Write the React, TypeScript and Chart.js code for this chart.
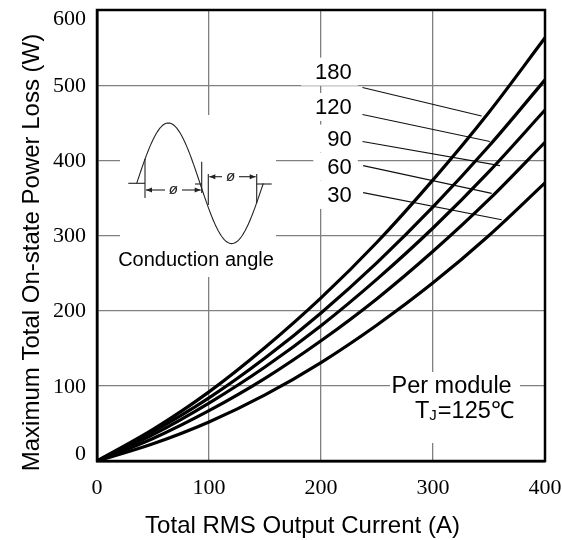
import React, { useEffect, useRef } from 'react';
import { Chart, registerables } from 'chart.js';

Chart.register(...registerables);

// ---- data ----
const currents = [0, 50, 100, 150, 200, 250, 300, 350, 400];
const loss180 = [0, 42, 92, 151, 217, 291, 374, 464, 563];
const loss120 = [0, 39, 84, 137, 197, 264, 338, 419, 507];
const loss90 = [0, 35, 77, 125, 180, 242, 310, 385, 467];
const loss60 = [0, 30, 67, 110, 160, 216, 279, 348, 424];
const loss30 = [0, 23, 52, 88, 131, 181, 237, 300, 370];
const seriesNames = ['180', '120', '90', '60', '30'];
const seriesValues = [loss180, loss120, loss90, loss60, loss30];

const xTicks = [0, 100, 200, 300, 400];
const yTicks = [0, 100, 200, 300, 400, 500, 600];

// angle label anchors (data units) and leader line ends (data units)
const labelRightX = 227.5;
const labelY = [518, 471, 429, 391.5, 354];
const leaderStart = [[237, 497], [237, 461], [237, 425], [237.6, 393], [237.6, 357]];
const leaderEnd = [[343.4, 459], [350.8, 425], [359.8, 393], [352.4, 356], [361.3, 321]];

const xTitle = 'Total RMS Output Current (A)';
const yTitle = 'Maximum Total On-state Power Loss (W)';
const insetTitle = 'Conduction angle';
const noteLine1 = 'Per module';
const noteT = 'T';
const noteSub = 'J';
const noteRest = '=125\u2103';

const SANS = '"Liberation Sans", Arial, sans-serif';
const SERIF = '"Liberation Serif", "Times New Roman", serif';

function arrowHead(ctx: CanvasRenderingContext2D, x: number, y: number, dir: number) {
  ctx.beginPath();
  ctx.moveTo(x, y);
  ctx.lineTo(x - dir * 6, y - 2.5);
  ctx.lineTo(x - dir * 6, y + 2.5);
  ctx.closePath();
  ctx.fill();
}

const annotations = {
  id: 'annotations',
  beforeDatasetsDraw(chart: any) {
    const { ctx, chartArea: a, scales } = chart;
    const xs = scales.x, ys = scales.y;
    const ox = a.left - 97, oy = a.top - 10;
    ctx.save();
    // white backgrounds
    ctx.fillStyle = '#fff';
    ctx.fillRect(ox + 120, oy + 115, 156, 162);
    ctx.fillRect(ox + 390, oy + 372, 130, 71);

    // angle labels with white boxes
    ctx.font = `22px ${SANS}`;
    ctx.textBaseline = 'middle';
    ctx.textAlign = 'right';
    seriesNames.forEach((name, i) => {
      const rx = xs.getPixelForValue(labelRightX);
      const cy = ys.getPixelForValue(labelY[i]);
      const w = ctx.measureText(name).width;
      ctx.fillStyle = '#fff';
      ctx.fillRect(rx - w - 14, cy - 14, w + 20, 28);
    });
    seriesNames.forEach((name, i) => {
      const rx = xs.getPixelForValue(labelRightX);
      const cy = ys.getPixelForValue(labelY[i]);
      ctx.fillStyle = '#000';
      ctx.fillText(name, rx, cy + 1);
      ctx.beginPath();
      ctx.strokeStyle = '#111';
      ctx.lineWidth = 1.1;
      ctx.moveTo(xs.getPixelForValue(leaderStart[i][0]), ys.getPixelForValue(leaderStart[i][1]));
      ctx.lineTo(xs.getPixelForValue(leaderEnd[i][0]), ys.getPixelForValue(leaderEnd[i][1]));
      ctx.stroke();
    });

    // inset: conduction angle drawing
    ctx.strokeStyle = '#222';
    ctx.fillStyle = '#222';
    ctx.lineWidth = 1.1;
    ctx.beginPath();
    const x0 = ox + 136.7, base = oy + 183.3, per = 126.6, amp = 60.3;
    for (let k = 0; k <= 120; k++) {
      const t = k / 120;
      const px = x0 + t * per;
      const py = base - amp * Math.sin(2 * Math.PI * t);
      if (k === 0) ctx.moveTo(px, py); else ctx.lineTo(px, py);
    }
    ctx.stroke();
    const seg = (x1: number, y1: number, x2: number, y2: number) => {
      ctx.beginPath();
      ctx.moveTo(ox + x1, oy + y1);
      ctx.lineTo(ox + x2, oy + y2);
      ctx.stroke();
    };
    seg(145, 159, 145, 198);
    seg(201.7, 161.7, 201.7, 193);
    seg(208.3, 174, 208.3, 205);
    seg(256.7, 174, 256.7, 203);
    seg(128.3, 183.3, 145, 183.3);
    seg(195, 184, 201.7, 184);
    seg(256.7, 184, 271.7, 184);
    // dimension 1
    seg(146, 190, 165, 190);
    seg(182, 190, 200.7, 190);
    arrowHead(ctx, ox + 146, oy + 190, -1);
    arrowHead(ctx, ox + 200.7, oy + 190, 1);
    // dimension 2
    seg(209.3, 176.7, 222, 176.7);
    seg(239, 176.7, 255.7, 176.7);
    arrowHead(ctx, ox + 209.3, oy + 176.7, -1);
    arrowHead(ctx, ox + 255.7, oy + 176.7, 1);
    ctx.font = `italic 15px ${SANS}`;
    ctx.textAlign = 'center';
    ctx.textBaseline = 'middle';
    ctx.fillText('\u00f8', ox + 173.3, oy + 190);
    ctx.fillText('\u00f8', ox + 230.5, oy + 176.7);

    ctx.fillStyle = '#000';
    ctx.font = `20px ${SANS}`;
    ctx.fillText(insetTitle, ox + 196, oy + 260);

    // note box text
    ctx.font = `23.5px ${SANS}`;
    ctx.textAlign = 'left';
    ctx.fillText(noteLine1, ox + 391.5, oy + 387);
    let tx = ox + 415;
    ctx.fillText(noteT, tx, oy + 411.5);
    tx += ctx.measureText(noteT).width;
    ctx.font = `15px ${SANS}`;
    ctx.fillText(noteSub, tx, oy + 416);
    tx += ctx.measureText(noteSub).width + 1;
    ctx.font = `23.5px ${SANS}`;
    ctx.fillText(noteRest, tx, oy + 411.5);
    ctx.restore();
  },
  afterDraw(chart: any) {
    const { ctx, chartArea: a, scales } = chart;
    const ys = scales.y;
    const ox = a.left - 97, oy = a.top - 10;
    ctx.save();
    ctx.strokeStyle = '#000';
    ctx.lineWidth = 2.5;
    ctx.strokeRect(a.left, a.top, a.right - a.left, a.bottom - a.top);
    // y tick labels (end labels nudged inside the range as in the reference)
    ctx.fillStyle = '#000';
    ctx.font = `22px ${SERIF}`;
    ctx.textAlign = 'right';
    ctx.textBaseline = 'middle';
    yTicks.forEach((v, i) => {
      let py = ys.getPixelForValue(v);
      if (i === 0) py -= 8;
      if (i === yTicks.length - 1) py += 8;
      ctx.fillText(String(v), a.left - 11, py + 1);
    });
    ctx.font = `24px ${SANS}`;
    ctx.textAlign = 'center';
    ctx.fillText(xTitle, ox + 302.5, oy + 526);
    ctx.translate(ox + 32, oy + 252.5);
    ctx.rotate(-Math.PI / 2);
    ctx.fillText(yTitle, 0, 0);
    ctx.restore();
  },
};

export default function App() {
  const ref = useRef<HTMLCanvasElement>(null);
  useEffect(() => {
    if (!ref.current) return;
    const chart = new Chart(ref.current, {
      type: 'line',
      data: {
        datasets: seriesValues.map((vals, i) => ({
          label: seriesNames[i],
          data: currents.map((c, j) => ({ x: c, y: vals[j] })),
          borderColor: '#000',
          borderWidth: 3.2,
          pointRadius: 0,
          fill: false,
          cubicInterpolationMode: 'monotone' as const,
        })),
      },
      options: {
        responsive: true,
        maintainAspectRatio: false,
        animation: false,
        layout: { padding: { left: 0, top: 10, right: 17, bottom: 0 } },
        plugins: { legend: { display: false }, tooltip: { enabled: false } },
        scales: {
          x: {
            type: 'linear',
            min: 0,
            max: 400,
            afterBuildTicks: (s: any) => { s.ticks = xTicks.map((v) => ({ value: v })); },
            afterFit: (s: any) => { s.height = 79; s.paddingLeft = 0; s.paddingRight = 0; },
            ticks: { color: '#000', font: { family: SERIF, size: 22 }, padding: 14, maxRotation: 0 },
            grid: { color: '#808080', lineWidth: 1.3, drawTicks: false },
            border: { display: true, color: '#000', width: 2.5 },
          },
          y: {
            type: 'linear',
            min: 0,
            max: 600,
            afterBuildTicks: (s: any) => { s.ticks = yTicks.map((v) => ({ value: v })); },
            afterFit: (s: any) => { s.width = 97; s.paddingTop = 0; s.paddingBottom = 0; },
            ticks: { display: false },
            grid: { color: '#808080', lineWidth: 1.3, drawTicks: false },
            border: { display: true, color: '#000', width: 2.5 },
          },
        },
      },
      plugins: [annotations],
    });
    return () => chart.destroy();
  }, []);
  return (
    <div style={{ position: 'absolute', left: 0, top: 0, width: 562, height: 540, background: '#fff' }}>
      <canvas ref={ref} />
    </div>
  );
}
